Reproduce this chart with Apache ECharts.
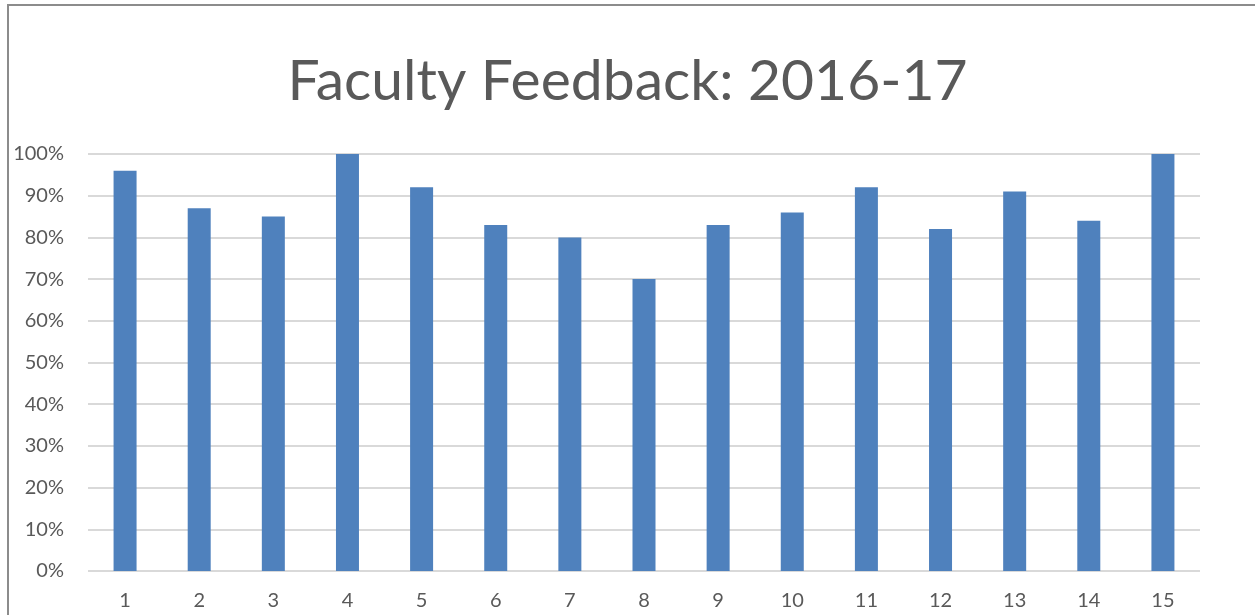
<!DOCTYPE html>
<html>
<head>
<meta charset="utf-8">
<script src="https://cdn.jsdelivr.net/npm/echarts@6/dist/echarts.min.js"></script>
<style>
  html, body { margin: 0; padding: 0; background: #fff; }
  #chart { width: 1255px; height: 615px; }
</style>
</head>
<body>
<div id="chart"></div>
<script>
// Données
const titre = "Faculty Feedback: 2016-17";
const categories = ["1", "2", "3", "4", "5", "6", "7", "8", "9", "10", "11", "12", "13", "14", "15"];
const valeurs = [96, 87, 85, 100, 92, 83, 80, 70, 83, 86, 92, 82, 91, 84, 100];
const yMin = 0, yMax = 100, yPas = 10;

const encre = "#595959";
const police = "Lato, 'Open Sans', sans-serif";

const chart = echarts.init(document.getElementById("chart"), null, { renderer: "canvas" });
chart.setOption({
  animation: false,
  textStyle: { fontFamily: police, color: encre },
  title: {
    text: titre,
    left: "center",
    top: 48,
    textStyle: { fontFamily: police, fontSize: 57, fontWeight: "normal", color: encre },
  },
  grid: { left: 88, right: 55, top: 154, bottom: 44, containLabel: false },
  graphic: [{
    type: "rect",
    shape: { x: 8, y: 5, width: 1400, height: 800 },
    style: { fill: null, stroke: "#8c8c8c", lineWidth: 2 },
    silent: true,
  }],
  xAxis: {
    type: "category",
    data: categories,
    axisLine: { show: false },
    axisTick: { show: false },
    axisLabel: { color: encre, fontSize: 20, margin: 20, fontFamily: police },
  },
  yAxis: {
    type: "value",
    min: yMin,
    max: yMax,
    interval: yPas,
    axisLine: { show: false },
    axisTick: { show: false },
    axisLabel: { color: encre, fontSize: 20, margin: 24, formatter: "{value}%", fontFamily: police },
    splitLine: { lineStyle: { color: "#d9d9d9", width: 2 } },
  },
  series: [{
    type: "bar",
    data: valeurs,
    barWidth: 23,
    itemStyle: { color: "#4f81bd" },
  }],
});
</script>
</body>
</html>
